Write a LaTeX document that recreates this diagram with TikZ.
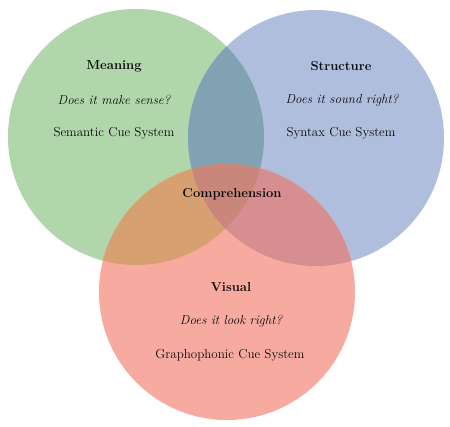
\documentclass[tikz,border=0pt]{standalone}
\usepackage{xcolor}
\usepackage{tikz}
\usetikzlibrary{positioning}
\definecolor{meaninggreen}{RGB}{178,214,172}
\definecolor{structureblue}{RGB}{176,190,221}
\definecolor{visualred}{RGB}{247,170,160}
\definecolor{greenblue}{RGB}{128,162,178}
\definecolor{greenred}{RGB}{215,160,112}
\definecolor{bluered}{RGB}{214,142,145}
\definecolor{allthree}{RGB}{200,135,122}
\definecolor{cuetext}{RGB}{10,10,10}

\begin{document}
\begin{tikzpicture}[x=1pt, y=-1pt,
	cuetitle/.style={text=cuetext, font=\fontsize{13}{15}\selectfont\bfseries},
	cuequestion/.style={text=cuetext, font=\fontsize{13}{15}\selectfont\itshape},
	cuename/.style={text=cuetext, font=\fontsize{13}{15}\selectfont}]
\useasboundingbox (0,0) rectangle (450,426);

% circles
\fill [meaninggreen] (136,137) circle (128);
\fill [structureblue] (316,138) circle (128);
\fill [visualred] (227,292) circle (128);

% overlaps
\begin{scope}
	\clip (136,137) circle (128);
	\fill [greenblue] (316,138) circle (128);
	\fill [greenred] (227,292) circle (128);
\end{scope}
\begin{scope}
	\clip (316,138) circle (128);
	\fill [bluered] (227,292) circle (128);
\end{scope}
\begin{scope}
	\clip (136,137) circle (128);
	\clip (316,138) circle (128);
	\fill [allthree] (227,292) circle (128);
\end{scope}

% labels
\node[cuetitle] (meaning) at (114,66) {Meaning};
\node[cuequestion] (meaningq) at (114,100) {Does it make sense?};
\node[cuename] (semantic) at (114,133) {Semantic Cue System};

\node[cuetitle] (structure) at (341,66) {Structure};
\node[cuequestion] (structureq) at (342,100) {Does it sound right?};
\node[cuename] (syntax) at (341,133) {Syntax Cue System};

\node[cuetitle] (comprehension) at (232,194) {Comprehension};

\node[cuetitle] (visual) at (231,287) {Visual};
\node[cuequestion] (visualq) at (231,321) {Does it look right?};
\node[cuename] (grapho) at (230,355) {Graphophonic Cue System};

\end{tikzpicture}
\end{document}
